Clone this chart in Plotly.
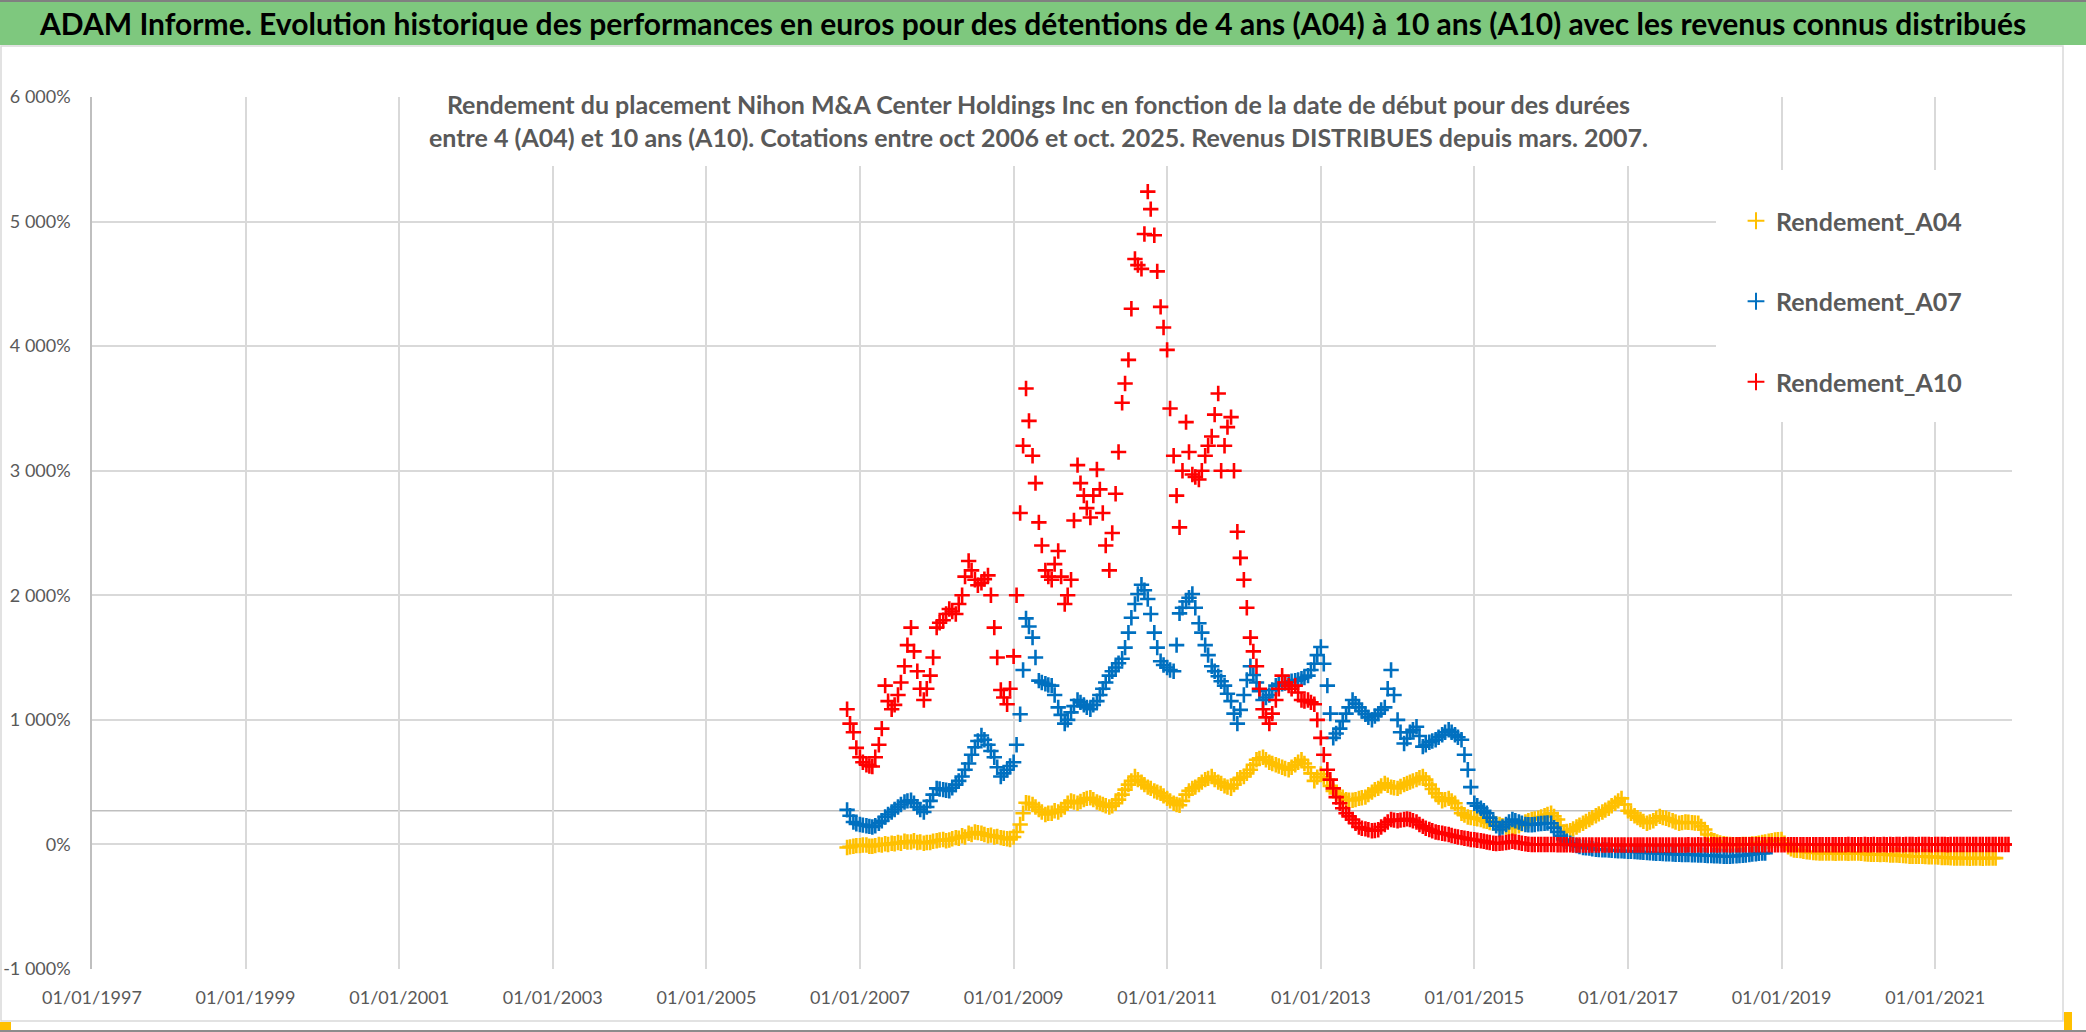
import pandas as pd
import plotly.graph_objects as go

# ---------------- data (in %, twice a month) ----------------
A04_START = "2006-11-01"
A07_START = "2006-11-01"
A10_START = "2006-11-01"

RENDEMENT_A04 = [
    -25, -20, -15, -10,  # 2006 Nov-Dec
    -10, -5, -5, -15, -15, -10, 0, -5, 5, 0, 10, 5, 15, 10, 25, 20, 20, 30, 15, 20, 10, 15, 15, 25,  # 2007
    30, 35, 40, 30, 35, 45, 55, 50, 70, 60, 90, 80, 100, 95, 90, 80, 70, 75, 60, 65, 55, 50, 45, 40,  # 2008
    60, 100, 160, 250, 335, 330, 320, 300, 280, 260, 240, 250, 250, 270, 260, 280, 300, 330, 350, 340, 330, 345, 360, 370,  # 2009
    375, 360, 340, 330, 320, 310, 300, 310, 330, 360, 400, 440, 480, 510, 545, 520, 500, 480, 460, 450, 430, 420, 410, 390,  # 2010
    370, 350, 330, 320, 315, 350, 400, 430, 450, 460, 480, 500, 520, 530, 545, 520, 500, 490, 470, 460, 450, 480, 520, 535,  # 2011
    545, 570, 600, 640, 680, 690, 700, 680, 660, 650, 640, 630, 620, 610, 600, 620, 640, 660, 680, 650, 620, 570, 510, 540,  # 2012
    565, 540, 520, 470, 430, 410, 400, 380, 360, 355, 355, 360, 370, 375, 380, 400, 420, 440, 450, 470, 490, 475, 460, 455,  # 2013
    450, 465, 480, 490, 500, 510, 520, 535, 545, 520, 480, 445, 410, 380, 350, 360, 370, 350, 330, 290, 250, 235, 220, 215,  # 2014
    210, 205, 200, 190, 185, 175, 170, 165, 160, 150, 140, 135, 130, 140, 150, 165, 180, 190, 200, 205, 210, 220, 230, 240,  # 2015
    250, 225, 200, 150, 100, 105, 110, 125, 140, 155, 170, 185, 200, 215, 230, 245, 260, 275, 290, 310, 330, 350, 370, 320,  # 2016
    270, 250, 230, 215, 200, 185, 170, 180, 190, 210, 225, 215, 210, 200, 190, 180, 170, 175, 180, 178, 175, 172, 170, 145,  # 2017
    120, 80, 40, 30, 20, 12, 5, 2, 0, -3, -5, -2, 0, 0, 0, 3, 5, 10, 15, 20, 25, 30, 35, 38,  # 2018
    40, 10, -20, -35, -45, -48, -50, -55, -60, -62, -65, -68, -70, -70, -70, -70, -70, -72, -70, -70, -70, -72, -70, -70,  # 2019
    -70, -72, -75, -78, -80, -80, -80, -82, -80, -82, -85, -85, -85, -88, -90, -92, -95, -95, -95, -95, -95, -98, -100, -100,  # 2020
    -100, -102, -105, -105, -105, -108, -110, -110, -110, -110, -110, -112, -110, -110, -110, -112, -110, -110, -110, -110,  # 2021 Jan-Oct
]

RENDEMENT_A07 = [
    277, 230, 180, 165,  # 2006 Nov-Dec
    160, 155, 150, 145, 140, 150, 170, 190, 220, 240, 260, 280, 300, 320, 340, 350, 355, 330, 300, 280, 260, 300, 350, 400,  # 2007
    450, 445, 440, 435, 430, 455, 480, 510, 545, 600, 650, 720, 780, 830, 875, 840, 800, 750, 700, 620, 545, 570, 600, 630,  # 2008
    660, 800, 1045, 1400, 1815, 1750, 1660, 1500, 1315, 1300, 1290, 1280, 1275, 1200, 1100, 1040, 970, 1000, 1060, 1110, 1160, 1140, 1120, 1100,  # 2009
    1085, 1120, 1150, 1200, 1250, 1300, 1355, 1390, 1420, 1455, 1490, 1580, 1700, 1820, 1930, 2010, 2085, 2040, 1970, 1850, 1700, 1580, 1470, 1440,  # 2010
    1420, 1400, 1390, 1600, 1855, 1900, 1950, 1980, 2010, 1900, 1775, 1700, 1600, 1520, 1430, 1390, 1350, 1310, 1275, 1210, 1150, 1050, 970, 1080,  # 2011
    1200, 1320, 1430, 1360, 1300, 1230, 1160, 1180, 1200, 1240, 1275, 1285, 1290, 1295, 1300, 1310, 1315, 1320, 1330, 1340, 1355, 1400, 1450, 1520,  # 2012
    1585, 1450, 1275, 1050, 855, 890, 930, 990, 1050, 1100, 1160, 1130, 1100, 1070, 1045, 1020, 1000, 1030, 1050, 1080, 1100, 1250, 1400, 1200,  # 2013
    1000, 900, 810, 850, 900, 920, 945, 870, 785, 800, 820, 830, 840, 860, 880, 900, 920, 900, 880, 860, 840, 720, 600, 460,  # 2014
    330, 310, 290, 270, 250, 215, 180, 150, 120, 140, 160, 180, 200, 190, 180, 170, 160, 158, 158, 160, 165, 168, 170, 172,  # 2015
    170, 135, 100, 70, 40, 25, 10, 0, -10, -18, -25, -28, -30, -35, -40, -42, -43, -44, -45, -48, -50, -51, -52, -54,  # 2016
    -55, -56, -58, -60, -62, -64, -66, -68, -70, -71, -72, -74, -75, -76, -78, -79, -80, -81, -82, -82, -83, -84, -85, -86,  # 2017
    -88, -89, -90, -91, -92, -94, -96, -96, -95, -94, -92, -90, -88, -85, -82, -78, -75, -72, -70, -70,  # 2018 Jan-Oct
]

RENDEMENT_A10 = [
    1085, 970, 900, 775,  # 2006 Nov-Dec
    700, 660, 640, 630, 625, 700, 800, 930, 1275, 1150, 1085, 1120, 1200, 1300, 1430, 1600, 1740, 1550, 1390, 1250, 1160, 1250, 1355, 1500,  # 2007
    1740, 1780, 1800, 1850, 1890, 1870, 1850, 1930, 2000, 2150, 2275, 2200, 2125, 2080, 2100, 2130, 2160, 2000, 1740, 1500, 1240, 1180, 1125, 1250,  # 2008
    1510, 2000, 2660, 3200, 3660, 3400, 3120, 2900, 2585, 2400, 2200, 2150, 2125, 2250, 2355, 2150, 1930, 2000, 2125, 2600, 3045, 2900, 2800, 2700,  # 2009
    2625, 2800, 3010, 2850, 2660, 2400, 2200, 2500, 2815, 3150, 3545, 3700, 3890, 4300, 4700, 4650, 4620, 4900, 5240, 5100, 4890, 4600, 4315, 4150,  # 2010
    3970, 3500, 3120, 2800, 2545, 3000, 3390, 3150, 2970, 2950, 2930, 3000, 3120, 3200, 3275, 3450, 3620, 3000, 3200, 3350, 3430, 3000, 2510, 2300,  # 2011
    2125, 1900, 1660, 1550, 1430, 1250, 1085, 1020, 970, 1050, 1160, 1250, 1355, 1300, 1275, 1250, 1275, 1220, 1160, 1150, 1160, 1140, 1125, 1000,  # 2012
    855, 720, 600, 520, 450, 380, 330, 290, 250, 225, 200, 170, 140, 130, 125, 118, 110, 112, 118, 140, 160, 180, 200, 195,  # 2013
    190, 195, 200, 205, 200, 190, 180, 160, 145, 130, 120, 110, 100, 95, 90, 85, 80, 72, 65, 60, 55, 50, 45, 40,  # 2014
    37, 33, 30, 25, 20, 15, 10, 8, 10, 12, 15, 20, 25, 20, 15, 10, 5, 2, 0, 0, 0, -1, 0, -1,  # 2015
    0, -1, -2, -2, -3, -3, -3, -4, -4, -4, -4, -4, -5, -4, -5, -4, -5, -5, -4, -5, -5, -4, -5, -5,  # 2016
    -4, -5, -4, -4, -5, -4, -4, -4, -5, -4, -4, -4, -4, -4, -5, -4, -4, -4, -4, -3, -4, -4, -3, -4,  # 2017
    -3, -4, -3, -3, -4, -3, -3, -3, -4, -3, -3, -3, -3, -3, -3, -2, -3, -3, -3, -3, -2, -3, -3, -3,  # 2018
    -2, -3, -2, -2, -3, -2, -2, -2, -3, -2, -2, -2, -2, -2, -2, -3, -2, -2, -2, -2, -2, -1, -2, -2,  # 2019
    -2, -2, -1, -2, -2, -1, -2, -2, -1, -2, -1, -2, -1, -1, -2, -1, -1, -1, -2, -1, -1, -1, -1, -2,  # 2020
    -1, -1, -1, -1, -2, -1, -1, -1, -1, -1, -1, -1, -1, -1, -1, -1, -1, -1, -1, -1, -1, -1, -1, -1,  # 2021
]

SERIES_NAMES = ["Rendement_A04", "Rendement_A07", "Rendement_A10"]
SERIES_COLORS = ["#FFC000", "#0070C0", "#FF0000"]

X_TICKS = ["1997-01-01", "1999-01-01", "2001-01-01", "2003-01-01", "2005-01-01",
           "2007-01-01", "2009-01-01", "2011-01-01", "2013-01-01", "2015-01-01",
           "2017-01-01", "2019-01-01", "2021-01-01"]
X_TICK_LABELS = ["01/01/1997", "01/01/1999", "01/01/2001", "01/01/2003", "01/01/2005",
                 "01/01/2007", "01/01/2009", "01/01/2011", "01/01/2013", "01/01/2015",
                 "01/01/2017", "01/01/2019", "01/01/2021"]
X_RANGE = ["1997-01-01", "2022-01-01"]

Y_TICKS = [-1000, 0, 1000, 2000, 3000, 4000, 5000, 6000]
Y_TICK_LABELS = ["-1 000%", "0%", "1 000%", "2 000%", "3 000%", "4 000%", "5 000%", "6 000%"]
Y_RANGE = [-1000, 6000]
X_AXIS_CROSS = 270  # value where the horizontal axis line crosses

TITLE = ("ADAM Informe. Evolution historique des performances en euros pour des "
         "détentions de 4 ans (A04) à 10 ans (A10) avec les revenus connus distribués")
SUBTITLE = ("Rendement du placement Nihon M&A Center Holdings Inc en fonction de la date de début pour des durées<br>"
            "entre 4 (A04) et 10 ans (A10). Cotations entre oct 2006 et oct. 2025. Revenus DISTRIBUES depuis mars. 2007.")

# ---------------- layout geometry (pixels) ----------------
W, H = 2086, 1032
L, R, T, B = 92, 2012, 97, 969


def px_x(x):
    return (x - L) / (R - L)


def px_y(y):
    return (B - y) / (B - T)


FONT = "Lato, 'Open Sans', 'DejaVu Sans', sans-serif"
GRAY = "#595959"

fig = go.Figure()
for name, start, vals, col in zip(SERIES_NAMES, [A04_START, A07_START, A10_START],
                                  [RENDEMENT_A04, RENDEMENT_A07, RENDEMENT_A10], SERIES_COLORS):
    dates = pd.date_range(start, periods=len(vals), freq="SMS")
    fig.add_trace(go.Scatter(
        x=dates, y=vals, mode="markers", name=name, legendgroup=name,
        marker=dict(symbol="cross-thin", size=11, color=col,
                    line=dict(color=col, width=2.6)),
    ))

shapes = [
    # title banner
    dict(type="rect", xref="paper", yref="paper", x0=px_x(0), x1=px_x(W), y0=px_y(45), y1=px_y(0),
         fillcolor="#7EC87E", line=dict(width=0), layer="below"),
    dict(type="line", xref="paper", yref="paper", x0=px_x(0), x1=px_x(W), y0=px_y(1), y1=px_y(1),
         line=dict(color="#808080", width=2)),
    # chart area border
    dict(type="rect", xref="paper", yref="paper", x0=px_x(1), x1=px_x(2063), y0=px_y(1021), y1=px_y(46),
         line=dict(color="#D9D9D9", width=1.5), layer="below"),
    dict(type="line", xref="paper", yref="paper", x0=px_x(0), x1=px_x(W), y0=px_y(1031), y1=px_y(1031),
         line=dict(color="#8C8C8C", width=2)),
    dict(type="rect", xref="paper", yref="paper", x0=px_x(0), x1=px_x(11), y0=px_y(1030), y1=px_y(1022),
         fillcolor="#FFC000", line=dict(width=0)),
    dict(type="rect", xref="paper", yref="paper", x0=px_x(2064), x1=px_x(2072), y0=px_y(1030), y1=px_y(1012),
         fillcolor="#FFC000", line=dict(width=0)),
    # horizontal axis line
    dict(type="line", xref="paper", yref="y", x0=0, x1=1, y0=X_AXIS_CROSS, y1=X_AXIS_CROSS,
         line=dict(color="#BFBFBF", width=1.5), layer="below"),
    # white boxes behind subtitle and legend
    dict(type="rect", xref="paper", yref="paper", x0=px_x(418), x1=px_x(1660), y0=px_y(166), y1=px_y(80),
         fillcolor="white", line=dict(width=0), layer="above"),
    dict(type="rect", xref="paper", yref="paper", x0=px_x(1716), x1=px_x(2040), y0=px_y(422), y1=px_y(170),
         fillcolor="white", line=dict(width=0), layer="above"),
]

annotations = [
    dict(text="<b>" + TITLE + "</b>", xref="paper", yref="paper", x=px_x(1032), y=px_y(23),
         xanchor="center", yanchor="middle", showarrow=False,
         font=dict(family=FONT, size=30, color="black")),
    dict(text="<b>" + SUBTITLE + "</b>", xref="paper", yref="paper", x=px_x(1038), y=px_y(121),
         xanchor="center", yanchor="middle", showarrow=False, align="center",
         font=dict(family=FONT, size=25, color=GRAY)),
]

fig.update_layout(
    width=W, height=H,
    margin=dict(l=L, r=W - R, t=T, b=H - B, autoexpand=False),
    paper_bgcolor="white", plot_bgcolor="white",
    font=dict(family=FONT, color=GRAY),
    shapes=shapes, annotations=annotations,
    showlegend=True,
    legend=dict(x=px_x(1736), y=px_y(198), xanchor="left", yanchor="top",
                bgcolor="rgba(0,0,0,0)", tracegroupgap=45, itemsizing="constant",
                font=dict(family=FONT, size=25, color=GRAY, weight="bold")),
    xaxis=dict(type="date", range=X_RANGE, tickvals=X_TICKS, ticktext=X_TICK_LABELS,
               automargin=False,
               showgrid=True, gridcolor="#D9D9D9", gridwidth=1.5, zeroline=False,
               showline=False, ticks="outside", ticklen=12, tickcolor="rgba(0,0,0,0)",
               tickfont=dict(family=FONT, size=18, color=GRAY)),
    yaxis=dict(range=Y_RANGE, tickvals=Y_TICKS, ticktext=Y_TICK_LABELS,
               automargin=False,
               showgrid=True, gridcolor="#D9D9D9", gridwidth=1.5, zeroline=False,
               showline=True, linecolor="#BFBFBF", linewidth=1.5,
               ticks="outside", ticklen=16, tickcolor="rgba(0,0,0,0)",
               tickfont=dict(family=FONT, size=18, color=GRAY)),
)

fig.write_html("out.html", config={"displayModeBar": False},
               post_script="document.body.style.margin='0';document.body.style.overflow='hidden';")
